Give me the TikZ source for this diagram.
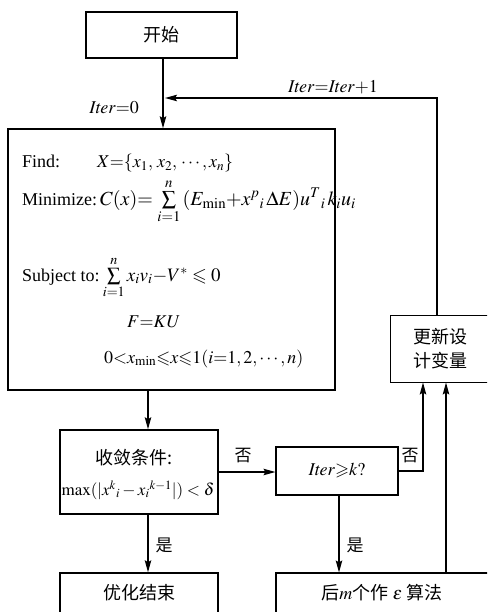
\documentclass[tikz,border=0pt]{standalone}
\usepackage{mathptmx}
\usepackage{amssymb}
\usepackage{fontspec}
\setmainfont{Liberation Serif}
\newfontfamily\cjk{Noto Sans CJK SC}
\usetikzlibrary{arrows.meta,calc}
\begin{document}
\begin{tikzpicture}[x=1pt,y=-1pt,
  box/.style={draw,line width=1.5pt,inner sep=0pt,align=center},
  thinbox/.style={draw,line width=1.1pt,inner sep=0pt,align=center},
  arr/.style={line width=1.2pt,-{Stealth[length=12pt,width=6.5pt,inset=2pt]}},
  lbl/.style={inner sep=0pt,font=\fontsize{18}{20}\selectfont},
  cn/.style={inner sep=0pt,font=\cjk\fontsize{17}{20}\selectfont},
  fx/.style={inner sep=0pt,anchor=base west,font=\fontsize{18}{20}\selectfont}]
\useasboundingbox (0,0) rectangle (487,612);
\clip (0,0) rectangle (487,612);
% boxes
\node[box,minimum width=151pt,minimum height=46pt,font=\cjk\fontsize{18}{20}\selectfont] (start) at (161.5,35) {开始};
\node[box,minimum width=327pt,minimum height=261pt] (big) at (171.5,259.5) {};
\node[box,minimum width=158pt,minimum height=84pt] (conv) at (139,472) {};
\node[thinbox,minimum width=122pt,minimum height=48pt,font=\fontsize{18}{20}\selectfont] (iter) at (337,471) {$\mathit{Iter}{\geqslant}k?$};
\node[thinbox,line width=1pt,minimum width=100pt,minimum height=67pt,font=\cjk\fontsize{18}{24}\selectfont] (upd) at (440,348.5) {更新设\\计变量};
\node[box,minimum width=158pt,minimum height=54pt] (endn) at (139,600) {};
\node[thinbox,minimum width=214pt,minimum height=54pt] (eps) at (383,600) {};
\node[cn,font=\cjk\fontsize{18}{20}\selectfont] (endt) at (139,593) {优化结束};
\node[inner sep=0pt,font=\fontsize{18}{20}\selectfont] (epst) at (382,593) {{\cjk 后}$m${\cjk 个作} $\varepsilon$ {\cjk 算法}};
% conv text
\node[inner sep=0pt,font=\cjk\fontsize{18}{20}\selectfont] (c1) at (134,458) {收敛条件:};
\node[inner sep=0pt,font=\fontsize{17}{20}\selectfont] (c2) at (138,490) {$\max(|x^{k}{}_{i}-x_{i}{}^{k-1}|)<\delta$};
% big box text
\node[fx] (f1) at (22,168) {Find:};
\node[fx] (f1b) at (97,168) {$X{=}\{x_{1},\,x_{2},\,\cdots,x_{n}\}$};
\node[fx,font=\fontsize{20}{22}\selectfont] (f2) at (22,205) {{\fontsize{18}{20}\selectfont Minimize:\,}$C(x){=}\,\sum\limits_{i=1}^{n}\,(E_{\min}{+}x^{p}{}_{i}\,\Delta E)u^{T}{}_{i}\,k_{i}u_{i}$};
\node[fx,font=\fontsize{19}{22}\selectfont] (f3) at (22,281) {{\fontsize{18}{20}\selectfont Subject to:}\,$\sum\limits_{i=1}^{n}x_{i}v_{i}{-}V^{*}\leqslant0$};
\node[fx] (f4) at (127,327) {$F{=}KU$};
\node[fx] (f5) at (104,363) {$0{<}x_{\min}{\leqslant}x{\leqslant}1(i{=}1,2,\cdots,n)$};
% coordinates
\coordinate (fb) at (437,98);
\coordinate (a0) at (163,0);
\coordinate (a1) at (148,0);
\coordinate (a2) at (339,0);
\coordinate (n1) at (423,0);
\coordinate (n2) at (446,0);
\coordinate (tip) at (165,98);
% connectors
\draw[arr] (a0 |- start.south) -- (a0 |- big.north);
\draw[arr] (fb |- upd.north) -- (fb) -- (tip);
\draw[arr] (a1 |- big.south) -- (a1 |- conv.north);
\draw[arr] (conv.east) -- (conv.east -| iter.west);
\draw[arr] (iter.east) -| (n1 |- upd.south);
\draw[arr] (n2 |- eps.north) -- (n2 |- upd.south);
\draw[arr] (a1 |- conv.south) -- (a1 |- endn.north);
\draw[arr] (a2 |- iter.south) -- (a2 |- eps.north);
% labels
\node[lbl,anchor=east] (l0) at (139,108) {$\mathit{Iter}{=}0$};
\node[lbl] (l1) at (333,87) {$\mathit{Iter}{=}\mathit{Iter}{+}1$};
\node[cn] (no1) at (243,456) {否};
\node[cn] (no2) at (410,456) {否};
\node[cn] (yes1) at (164,545) {是};
\node[cn] (yes2) at (355,545) {是};
\end{tikzpicture}
\end{document}
